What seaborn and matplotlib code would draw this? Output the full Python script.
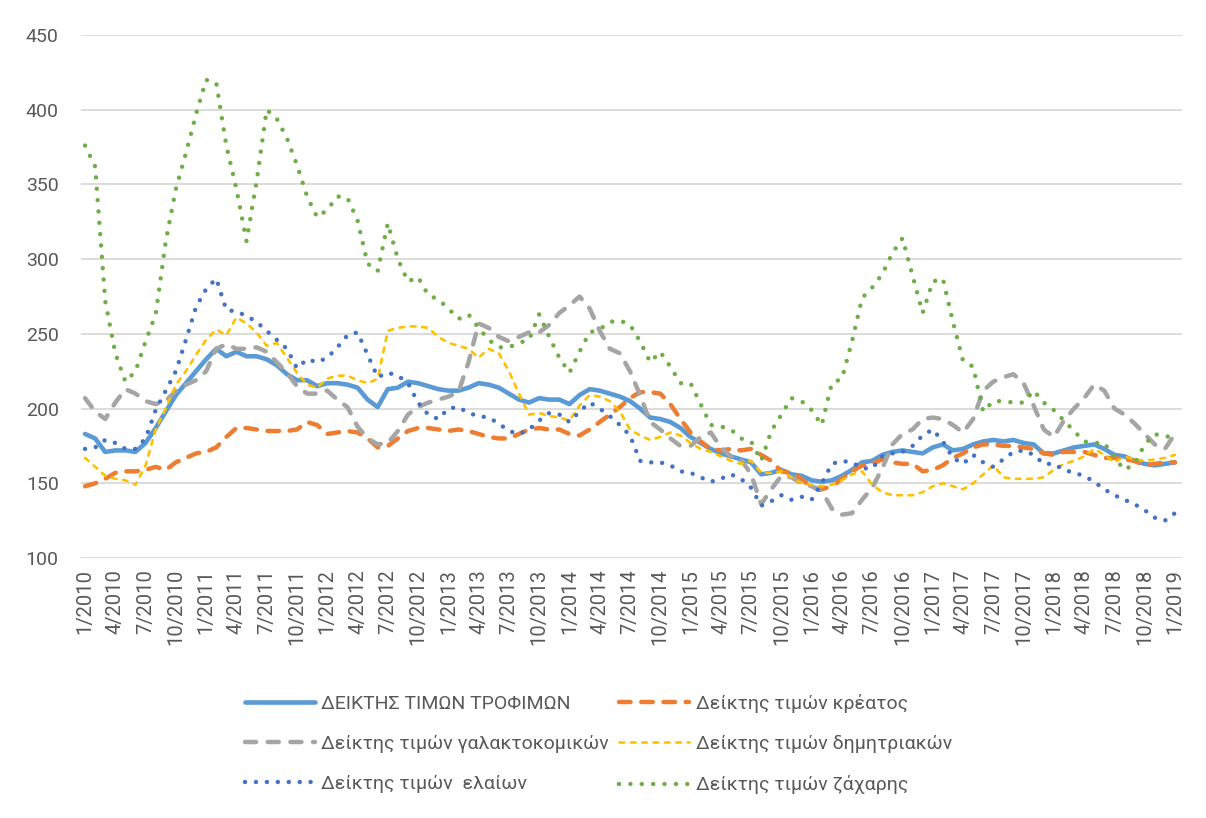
import matplotlib
matplotlib.use("Agg")
import matplotlib.pyplot as plt
import seaborn as sns
import numpy as np

# ---- data (monthly, 1/2010 .. 1/2019) ----
tick_labels = ["1/2010", "4/2010", "7/2010", "10/2010",
               "1/2011", "4/2011", "7/2011", "10/2011",
               "1/2012", "4/2012", "7/2012", "10/2012",
               "1/2013", "4/2013", "7/2013", "10/2013",
               "1/2014", "4/2014", "7/2014", "10/2014",
               "1/2015", "4/2015", "7/2015", "10/2015",
               "1/2016", "4/2016", "7/2016", "10/2016",
               "1/2017", "4/2017", "7/2017", "10/2017",
               "1/2018", "4/2018", "7/2018", "10/2018",
               "1/2019"]

food = [183, 180, 171, 172, 172, 171, 177, 187, 198, 209, 217, 225, 233,
        240, 235, 238, 235, 235, 233, 229, 223, 219, 219, 215, 217, 217, 216,
        214, 206, 201, 213, 214, 218, 217, 215, 213, 212, 212, 214, 217,
        216, 214, 210, 206, 204, 207, 206, 206, 203, 209, 213, 212, 210, 208,
        205, 200, 194, 193, 191, 187, 181, 177, 173, 170, 168, 166, 164,
        156, 157, 159, 156, 155, 152, 151, 152, 155, 159, 164, 165, 169,
        171, 172, 171, 170, 174, 176, 172, 173, 176, 178, 179, 178, 179, 177,
        176, 170, 170, 172, 174, 175, 176, 173, 169, 168, 165, 163, 162, 163, 164]

meat = [148, 150, 153, 157, 158, 158, 159, 161, 159, 164, 167, 170, 171,
        174, 181, 187, 187, 186, 185, 185, 185, 186, 191, 189, 183, 184, 185,
        184, 180, 174, 175, 180, 185, 187, 187, 186, 185, 186, 185, 183,
        181, 180, 180, 183, 186, 187, 186, 186, 183, 182, 186, 191, 196, 201,
        207, 211, 211, 210, 203, 193, 184, 178, 173, 172, 173, 172, 173,
        169, 165, 158, 157, 153, 147, 146, 148, 153, 158, 162, 163, 166,
        164, 163, 163, 158, 159, 162, 167, 170, 174, 176, 176, 175, 175, 174,
        173, 170, 169, 171, 171, 171, 169, 167, 167, 166, 165, 162, 163, 164, 164]

dairy = [207, 198, 193, 204, 213, 210, 205, 203, 205, 212, 216, 219, 225,
         240, 243, 240, 240, 241, 238, 231, 224, 215, 210, 210, 212, 206, 201,
         188, 180, 176, 177, 185, 196, 201, 204, 206, 208, 211, 231, 257,
         254, 248, 245, 248, 251, 251, 256, 264, 269, 275, 267, 252, 240, 237,
         225, 209, 191, 186, 180, 175, 175, 181, 184, 174, 168, 166, 156,
         136, 146, 155, 154, 150, 148, 145, 133, 129, 130, 139, 147, 160,
         176, 183, 186, 193, 194, 193, 189, 184, 193, 212, 218, 221, 223, 217,
         202, 186, 181, 192, 200, 207, 216, 212, 200, 196, 190, 183, 176, 173, 183]

cereals = [167, 161, 155, 153, 152, 149, 162, 186, 200, 216, 225, 236, 246,
           253, 249, 261, 257, 251, 242, 244, 234, 224, 216, 214, 220, 222, 222,
           219, 217, 220, 252, 254, 255, 255, 254, 248, 244, 242, 240, 234,
           240, 237, 225, 210, 196, 197, 195, 194, 192, 202, 209, 208, 205, 198,
           186, 182, 179, 181, 184, 182, 177, 173, 171, 168, 165, 163, 165,
           157, 157, 158, 154, 150, 149, 148, 149, 152, 156, 158, 149, 144,
           142, 142, 142, 144, 148, 150, 148, 146, 150, 156, 162, 154, 153, 153,
           153, 154, 159, 163, 165, 168, 173, 169, 164, 168, 166, 165, 166, 167, 169]

oils = [173, 174, 179, 177, 173, 173, 180, 199, 212, 225, 246, 268, 280,
        287, 266, 265, 262, 258, 252, 246, 240, 227, 233, 231, 234, 241, 249,
        251, 236, 221, 224, 222, 217, 204, 196, 193, 200, 201, 197, 195,
        194, 190, 185, 183, 186, 192, 197, 196, 191, 198, 204, 200, 195, 189,
        182, 165, 164, 164, 162, 158, 157, 154, 151, 153, 156, 153, 147,
        135, 138, 142, 139, 141, 139, 150, 163, 165, 164, 160, 160, 168,
        170, 171, 175, 182, 186, 178, 167, 163, 169, 164, 161, 166, 171, 172,
        169, 163, 163, 159, 157, 155, 151, 146, 142, 139, 136, 132, 127, 125, 130]

sugar = [376, 362, 272, 237, 218, 225, 245, 263, 312, 347, 371, 397, 420,
         418, 376, 347, 312, 352, 400, 394, 381, 363, 342, 328, 333, 342, 341,
         326, 297, 292, 324, 300, 285, 288, 276, 273, 267, 260, 263, 254,
         246, 241, 241, 244, 246, 263, 248, 234, 224, 238, 251, 253, 258, 259,
         256, 245, 231, 238, 228, 217, 217, 203, 189, 188, 186, 180, 178,
         165, 185, 196, 207, 205, 199, 189, 217, 220, 245, 274, 281, 290,
         304, 314, 289, 264, 285, 287, 258, 232, 228, 198, 205, 205, 204, 204,
         212, 204, 199, 192, 185, 178, 177, 177, 167, 159, 163, 176, 183, 181, 182]

series_names = ["ΔΕΙΚΤΗΣ ΤΙΜΩΝ ΤΡΟΦΙΜΩΝ",
                "Δείκτης τιμών κρέατος",
                "Δείκτης τιμών γαλακτοκομικών",
                "Δείκτης τιμών δημητριακών",
                "Δείκτης τιμών  ελαίων",
                "Δείκτης τιμών ζάχαρης"]

# ---- styling ----
sns.set_theme(style="white")
plt.rcParams['font.family'] = ['Roboto', 'DejaVu Sans']

W, H = 1206, 818
fig = plt.figure(figsize=(W / 100, H / 100), dpi=100)
ax = fig.add_axes([81 / W, 1 - 558 / H, 1101 / W, 523 / H])

months = np.arange(len(food))
styles = [
    (food,    "#5B9BD5", 3.3, None),
    (meat,    "#ED7D31", 3.2, (2.6, 2.4)),
    (dairy,   "#A5A5A5", 3.2, (2.5, 2.6)),
    (cereals, "#FFC000", 1.9, (1.8, 2.5)),
    (oils,    "#4472C4", 3.2, (0.01, 2.45)),
    (sugar,   "#70AD47", 3.2, (0.01, 2.55)),
]

handles = []
for name, (vals, color, lw, dashes) in zip(series_names, styles):
    sns.lineplot(x=months, y=vals, ax=ax, color=color, linewidth=lw,
                 label=name, legend=False)
    line = ax.lines[-1]
    line.set_solid_capstyle('round')
    line.set_solid_joinstyle('round')
    line.set_dash_joinstyle('round')
    if dashes is not None:
        line.set_dashes(dashes)
        line.set_dash_capstyle('round')
    handles.append(line)

ax.set_xlim(-0.4, 108.7)
ax.set_ylim(100, 450)
ax.set_yticks(np.arange(100, 451, 50))
ax.set_xticks(np.arange(0, 109, 3))
ax.set_xticklabels(tick_labels, rotation=90)
ax.set_xlabel("")
ax.set_ylabel("")

ax.yaxis.grid(True, color="#D9D9D9", linewidth=1.3)
ax.xaxis.grid(False)
ax.set_axisbelow(True)
for s in ax.spines.values():
    s.set_visible(False)

ax.tick_params(axis='y', length=0, pad=16, labelsize=14, labelcolor="#595959")
ax.tick_params(axis='x', length=0, pad=8, labelsize=14.5, labelcolor="#595959")
for t in ax.get_xticklabels():
    t.set_verticalalignment('top')

# row-major legend order (matplotlib fills columns first)
order = [0, 2, 4, 1, 3, 5]
fig.legend([handles[i] for i in order], [series_names[i] for i in order],
           loc='center', bbox_to_anchor=(0.496, 0.0905),
           ncol=2, frameon=False, fontsize=14, handlelength=3.6,
           handletextpad=0.35, columnspacing=0.5, labelspacing=1.15,
           labelcolor="#595959")

fig.savefig("out.png", dpi=100, facecolor="white")
